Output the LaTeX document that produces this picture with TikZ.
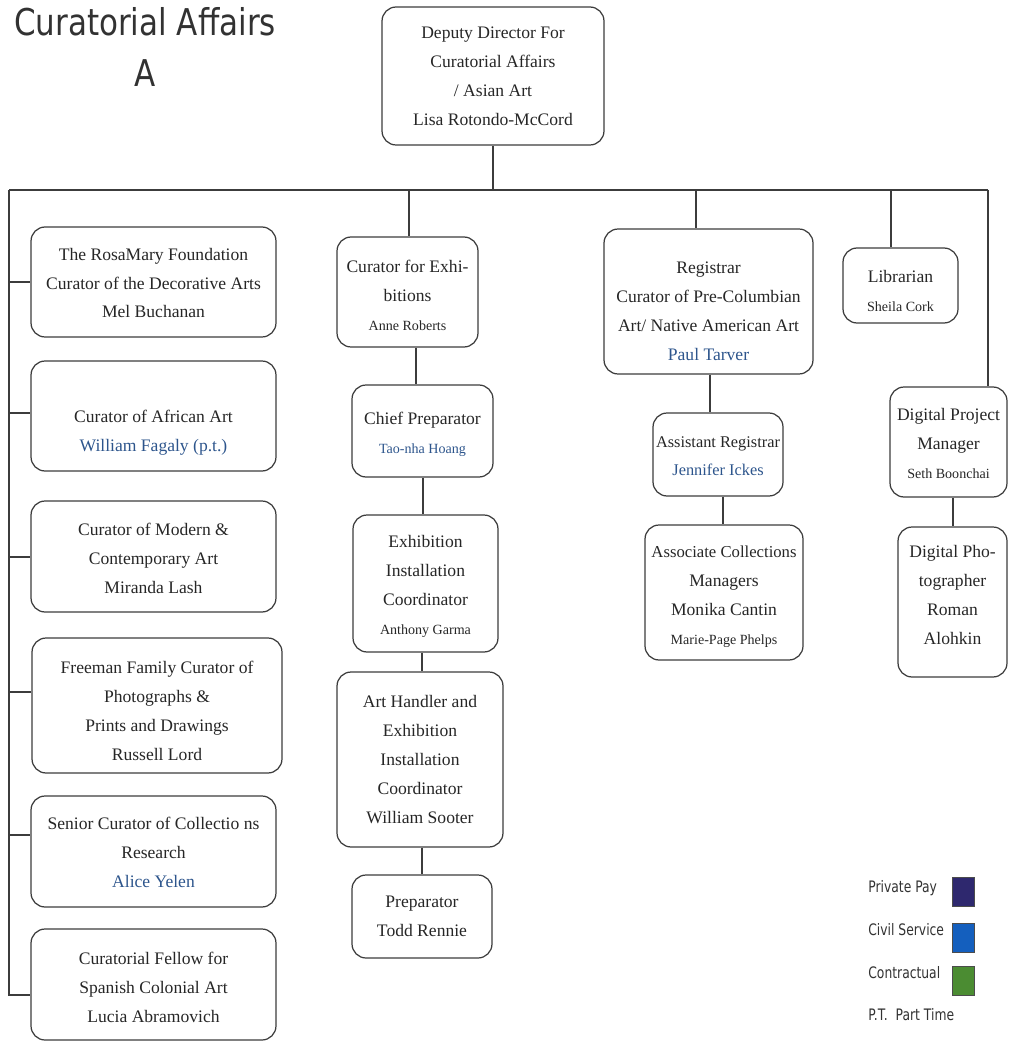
\documentclass[tikz,border=0pt]{standalone}
\usepackage{fontspec}
\setmainfont{Liberation Serif}
\newfontfamily\titlefont[FakeStretch=0.84]{DejaVu Sans}
\newfontfamily\legendfont[FakeStretch=0.78]{DejaVu Sans}

\definecolor{linec}{RGB}{60,60,60}
\definecolor{namec}{RGB}{45,85,140}
\definecolor{privc}{RGB}{46,40,110}
\definecolor{civilc}{RGB}{20,95,190}
\definecolor{contc}{RGB}{75,140,50}
\definecolor{titlec}{RGB}{50,50,50}

% smaller type for some names, blue for civil-service names
\newcommand\smallname[1]{{\fontsize{8}{16}\selectfont #1}}
\newcommand\bluename[1]{\textcolor{namec}{#1}}

\begin{document}
\begin{tikzpicture}[x=0.02cm,y=-0.02cm,
  box/.style={draw=linec, line width=0.7pt, rounded corners=8pt, inner sep=0pt},
  txt/.style={align=center, inner sep=0pt, font=\fontsize{10}{16.5}\selectfont, text=black!85},
  narrowtxt/.style={txt, font=\fontsize{9.3}{16}\selectfont},
  wire/.style={draw=linec, line width=0.7pt},
  heading/.style={inner sep=0pt, font=\titlefont\fontsize{21}{25}\selectfont, text=titlec},
  legtxt/.style={anchor=west, inner sep=0pt, font=\legendfont\fontsize{9}{11}\selectfont, text=titlec},
  swatch/.style={draw=black!70, line width=0.4pt, minimum width=0.44cm, minimum height=0.58cm, inner sep=0pt}]
\useasboundingbox (0,0) rectangle (1008,1043);

% ---------- heading ----------
\node[heading] (title) at (145,22) {Curatorial Affairs};
\node[heading] (titleA) at (145,73) {A};

% ---------- top ----------
\node[box, minimum width=4.44cm, minimum height=2.76cm] (dep) at (493,76) {};
\node[txt] (depT) at (493,76) {Deputy Director For\\Curatorial Affairs\\/ Asian Art\\Lisa Rotondo-McCord};

% ---------- left column ----------
\node[box, minimum width=4.9cm, minimum height=2.2cm] (b1) at (153.5,282) {};
\node[txt] (b1T) at (153.5,283) {The RosaMary Foundation\\Curator of the Decorative Arts\\Mel Buchanan};
\node[box, minimum width=4.9cm, minimum height=2.2cm] (b2) at (153.5,416) {};
\node[txt] (b2T) at (153.5,433) {Curator of African Art\\\bluename{William Fagaly (p.t.)}};
\node[box, minimum width=4.9cm, minimum height=2.22cm] (b3) at (153.5,556.5) {};
\node[txt] (b3T) at (153.5,558) {Curator of Modern \&\\Contemporary Art\\Miranda Lash};
\node[box, minimum width=5.0cm, minimum height=2.7cm] (b4) at (157,705.5) {};
\node[txt] (b4T) at (157,711) {Freeman Family Curator of\\Photographs \&\\Prints and Drawings\\Russell Lord};
\node[box, minimum width=4.9cm, minimum height=2.22cm] (b5) at (153.5,851.5) {};
\node[txt] (b5T) at (153.5,852) {Senior Curator of Collectio ns\\Research\\\bluename{Alice Yelen}};
\node[box, minimum width=4.9cm, minimum height=2.22cm] (b6) at (153.5,984.5) {};
\node[txt] (b6T) at (153.5,987) {Curatorial Fellow for\\Spanish Colonial Art\\Lucia Abramovich};

% ---------- exhibitions column ----------
\node[box, minimum width=2.82cm, minimum height=2.2cm] (c1) at (407.5,292) {};
\node[txt] (c1T) at (407.5,295) {Curator for Exhi-\\bitions\\\smallname{Anne Roberts}};
\node[box, minimum width=2.82cm, minimum height=1.84cm] (c2) at (422.5,431) {};
\node[txt] (c2T) at (422.5,434) {Chief Preparator\\\smallname{\bluename{Tao-nha Hoang}}};
\node[box, minimum width=2.9cm, minimum height=2.74cm] (c3) at (425.5,583.5) {};
\node[txt] (c3T) at (425.5,586) {Exhibition\\Installation\\Coordinator\\\smallname{Anthony Garma}};
\node[box, minimum width=3.32cm, minimum height=3.5cm] (c4) at (420,759.5) {};
\node[txt] (c4T) at (420,760) {Art Handler and\\Exhibition\\Installation\\Coordinator\\William Sooter};
\node[box, minimum width=2.8cm, minimum height=1.66cm] (c5) at (422,916.5) {};
\node[txt] (c5T) at (422,916) {Preparator\\Todd Rennie};

% ---------- registrar column ----------
\node[box, minimum width=4.18cm, minimum height=2.9cm] (r1) at (708.5,301.5) {};
\node[txt] (r1T) at (708.5,311) {Registrar\\Curator of Pre-Columbian\\Art/ Native American Art\\\bluename{Paul Tarver}};
\node[box, minimum width=2.6cm, minimum height=1.66cm] (r2) at (718,454.5) {};
\node[narrowtxt] (r2T) at (718,456) {Assistant Registrar\\\bluename{Jennifer Ickes}};
\node[box, minimum width=3.16cm, minimum height=2.7cm] (r3) at (724,592.5) {};
\node[txt] (r3T) at (724,597) {{\fontsize{9.5}{16.5}\selectfont Associate Collections}\\Managers\\Monika Cantin\\\smallname{Marie-Page Phelps}};

% ---------- right column ----------
\node[box, minimum width=2.3cm, minimum height=1.5cm] (l1) at (900.5,285.5) {};
\node[txt] (l1T) at (900.5,291) {Librarian\\\smallname{Sheila Cork}};
\node[box, minimum width=2.34cm, minimum height=2.2cm] (d1) at (948.5,442) {};
\node[txt] (d1T) at (948.5,443) {Digital Project\\Manager\\\smallname{Seth Boonchai}};
\node[box, minimum width=2.18cm, minimum height=3.0cm] (d2) at (952.5,602) {};
\node[txt] (d2T) at (952.5,595) {Digital Pho-\\tographer\\Roman\\Alohkin};

% ---------- connectors ----------
\coordinate (hL) at (9,190);
\coordinate (hR) at (988,190);
\draw[wire] (dep.south) -- (dep.south |- hL);
\draw[wire] (hL) -- (hR);
\draw[wire] (hL) |- (b6.west |- 0,995);
\draw[wire] (hL |- 0,282) -- (b1.west |- 0,282);
\draw[wire] (hL |- 0,413) -- (b2.west |- 0,413);
\draw[wire] (hL |- 0,557) -- (b3.west |- 0,557);
\draw[wire] (hL |- 0,692) -- (b4.west |- 0,692);
\draw[wire] (hL |- 0,835) -- (b5.west |- 0,835);

\draw[wire] (409,190) -- (c1.north -| 409,0);
\draw[wire] (c1.south -| 416,0) -- (c2.north -| 416,0);
\draw[wire] (c2.south -| 423,0) -- (c3.north -| 423,0);
\draw[wire] (c3.south -| 422,0) -- (c4.north -| 422,0);
\draw[wire] (c4.south -| 422,0) -- (c5.north -| 422,0);

\draw[wire] (696,190) -- (r1.north -| 696,0);
\draw[wire] (r1.south -| 710,0) -- (r2.north -| 710,0);
\draw[wire] (r2.south -| 723,0) -- (r3.north -| 723,0);

\draw[wire] (891,190) -- (l1.north -| 891,0);
\draw[wire] (hR) -- (d1.north -| hR);
\draw[wire] (d1.south -| 953,0) -- (d2.north -| 953,0);

% ---------- legend ----------
\node[legtxt] (lg1) at (868,888) {Private Pay};
\node[swatch, fill=privc] (sw1) at (963,891.5) {};
\node[legtxt] (lg2) at (868,930) {Civil Service};
\node[swatch, fill=civilc] (sw2) at (963,937.5) {};
\node[legtxt] (lg3) at (868,973) {Contractual};
\node[swatch, fill=contc] (sw3) at (963,980.5) {};
\node[legtxt] (lg4) at (868,1015) {P.T.\ \ Part Time};
\end{tikzpicture}
\end{document}
